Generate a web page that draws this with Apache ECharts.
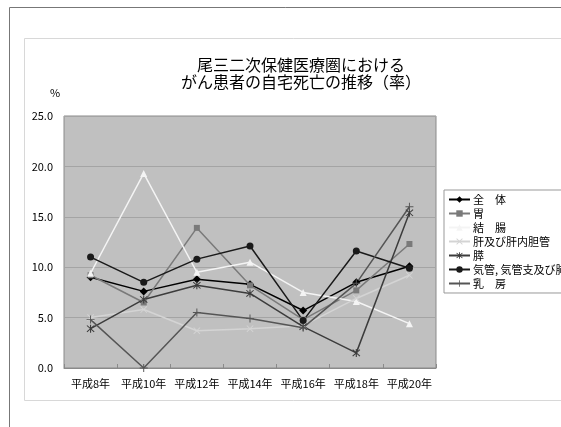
<!DOCTYPE html>
<html>
<head>
<meta charset="utf-8">
<script src="https://cdn.jsdelivr.net/npm/echarts@6/dist/echarts.min.js"></script>
<style>
  html, body { margin: 0; padding: 0; background: #fff; }
  #chart { width: 561px; height: 427px; }
</style>
</head>
<body>
<div id="chart"></div>
<script>
  var years = ['平成8年', '平成10年', '平成12年', '平成14年', '平成16年', '平成18年', '平成20年'];
  var zentai = [9.0, 7.6, 8.8, 8.3, 5.7, 8.5, 10.1];
  var i = [9.2, 6.5, 13.9, 8.2, 4.8, 7.7, 12.3];
  var ketcho = [9.4, 19.3, 9.5, 10.5, 7.5, 6.6, 4.4];
  var kan = [5.0, 5.8, 3.7, 3.9, 4.2, 6.9, 9.2];
  var sui = [3.9, 6.8, 8.2, 7.4, 4.1, 1.5, 15.4];
  var haigan = [11.0, 8.5, 10.8, 12.1, 4.7, 11.6, 9.9];
  var nyubo = [4.8, 0.0, 5.5, 4.9, 4.0, 8.4, 16.0];

  var plusPath = 'path://M4.4,0H5.6V4.4H10V5.6H5.6V10H4.4V5.6H0V4.4H4.4Z';
  var crossPath = 'path://M0.6,1.4L1.4,0.6L9.4,8.6L8.6,9.4Z M8.6,0.6L9.4,1.4L1.4,9.4L0.6,8.6Z';
  var starPath = 'path://M4.4,0H5.6V10H4.4Z M0.6,1.4L1.4,0.6L9.4,8.6L8.6,9.4Z M8.6,0.6L9.4,1.4L1.4,9.4L0.6,8.6Z';

  function line (name, data, color, symbol, size) {
    return {
      name: name,
      type: 'line',
      data: data,
      symbol: symbol,
      symbolSize: size,
      showAllSymbol: true,
      lineStyle: { color: color, width: 1.5 },
      itemStyle: { color: color, borderWidth: 0 },
      emphasis: { disabled: true }
    };
  }

  var chart = echarts.init(document.getElementById('chart'));
  chart.setOption({
    backgroundColor: '#fff',
    animation: false,
    textStyle: { fontFamily: '"Noto Sans CJK JP", sans-serif' },
    graphic: [
      { type: 'rect', shape: { x: 9.5, y: 7.5, width: 600, height: 500 }, style: { fill: null, stroke: '#777', lineWidth: 1 }, z: -10 },
      { type: 'rect', shape: { x: 24.5, y: 38.5, width: 600, height: 362 }, style: { fill: null, stroke: '#d8d8d8', lineWidth: 1 }, z: -10 },
      { type: 'text', left: 50, top: 87, style: { text: '%', fontSize: 11, fill: '#000', fontFamily: '"Noto Sans CJK JP", sans-serif' } }
    ],
    title: {
      text: '尾三二次保健医療圏における\nがん患者の自宅死亡の推移（率）',
      left: 296,
      top: 51,
      textAlign: 'center',
      textStyle: { fontSize: 16, fontWeight: 'normal', color: '#000', lineHeight: 17 }
    },
    legend: {
      orient: 'vertical',
      left: 444,
      top: 190,
      padding: [4, 60, 4, 4],
      itemWidth: 21,
      itemHeight: 8,
      itemGap: 3,
      borderColor: '#999',
      borderWidth: 1,
      backgroundColor: '#fff',
      textStyle: { fontSize: 11, color: '#000', padding: [0, 0, 0, -2] },
      data: ['全　体', '胃', '結　腸', '肝及び肝内胆管', '膵', '気管, 気管支及び肺', '乳　房']
    },
    grid: { left: 64, top: 116, right: 125, bottom: 59, show: true, backgroundColor: '#c0c0c0', borderColor: '#8a8a8a', borderWidth: 1 },
    xAxis: {
      type: 'category',
      data: years,
      boundaryGap: true,
      axisLine: { lineStyle: { color: '#8a8a8a' } },
      axisTick: { show: true, inside: true, length: 4, lineStyle: { color: '#8a8a8a' } },
      axisLabel: { fontSize: 11, color: '#000', margin: 10, interval: 0 }
    },
    yAxis: {
      type: 'value',
      min: 0,
      max: 25,
      interval: 5,
      axisLine: { show: false },
      axisTick: { show: false },
      axisLabel: { fontSize: 11, color: '#000', margin: 11, formatter: function (v) { return v.toFixed(1); } },
      splitLine: { lineStyle: { color: '#a4a4a4', width: 1 } }
    },
    series: [
      line('全　体', zentai, '#000000', 'diamond', 8),
      line('胃', i, '#7a7a7a', 'rect', 6),
      line('結　腸', ketcho, '#f4f4f4', 'triangle', 7),
      line('肝及び肝内胆管', kan, '#d4d4d4', crossPath, 7),
      line('膵', sui, '#3c3c3c', starPath, 8),
      line('気管, 気管支及び肺', haigan, '#1a1a1a', 'circle', 7),
      line('乳　房', nyubo, '#555555', plusPath, 8)
    ]
  });
</script>
</body>
</html>
